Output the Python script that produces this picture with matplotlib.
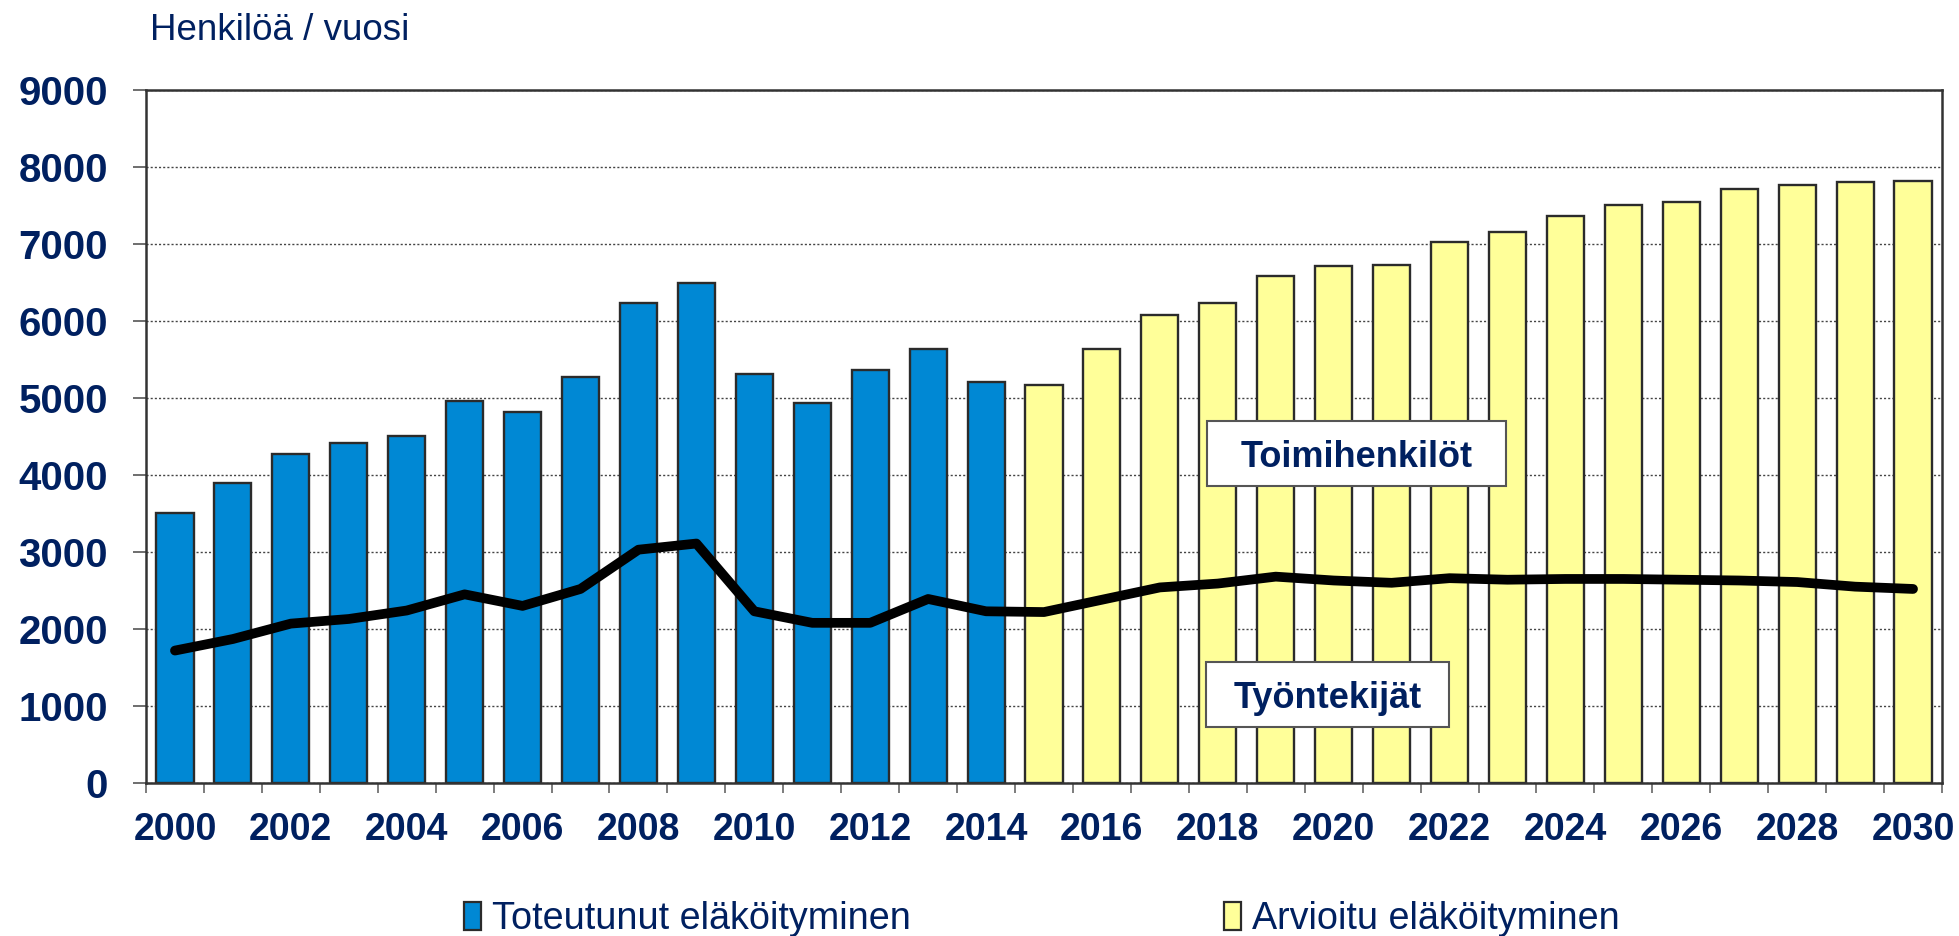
import matplotlib
matplotlib.use("Agg")
import matplotlib.pyplot as plt
from matplotlib.patches import Rectangle, Patch
import numpy as np

plt.rcParams['font.family'] = ['Liberation Sans', 'DejaVu Sans']

years = list(range(2000, 2031))
actual_years = list(range(2000, 2015))
actual_total = [3510, 3900, 4270, 4420, 4510, 4960, 4820, 5270, 6240, 6500,
                5310, 4940, 5360, 5630, 5210]
forecast_years = list(range(2015, 2031))
forecast_total = [5165, 5630, 6080, 6230, 6590, 6710, 6730, 7020, 7160, 7360,
                  7510, 7550, 7720, 7760, 7800, 7820]
workers = [1720, 1870, 2070, 2130, 2240, 2450, 2300, 2520, 3030, 3110,
           2230, 2080, 2080, 2390, 2230, 2220, 2380, 2540, 2590, 2680,
           2630, 2600, 2660, 2640, 2650, 2650, 2640, 2630, 2610, 2550, 2520]
yticks = [0, 1000, 2000, 3000, 4000, 5000, 6000, 7000, 8000, 9000]
xtick_years = list(range(2000, 2031, 2))

navy = '#002060'
blue = '#0088D4'
yellow = '#FFFF99'
edge = '#2b2b2b'

W, H = 1959, 936
fig = plt.figure(figsize=(W / 100, H / 100), dpi=100)
ax = fig.add_axes([146 / W, 1 - 783 / H, (1942 - 146) / W, (783 - 90) / H])

xa = np.array(actual_years) - 2000
xf = np.array(forecast_years) - 2000
xall = np.array(years) - 2000
bw = 0.64
ax.bar(xa, actual_total, width=bw, color=blue, edgecolor=edge, linewidth=1.7, zorder=2)
ax.bar(xf, forecast_total, width=bw, color=yellow, edgecolor=edge, linewidth=1.7, zorder=2)
ax.plot(xall, workers, color='black', linewidth=7, solid_joinstyle='round',
        solid_capstyle='round', zorder=4)

ax.set_xlim(-0.5, 30.5)
ax.set_ylim(0, 9000)
ax.set_yticks(yticks)
ax.set_yticklabels([str(v) for v in yticks])
ax.set_xticks(np.array(xtick_years) - 2000)
ax.set_xticklabels([str(y) for y in xtick_years])
ax.set_xticks(np.arange(-0.5, 31, 1), minor=True)
ax.tick_params(axis='x', which='major', length=0, pad=21)
ax.tick_params(axis='x', which='minor', length=7.5, width=1.2, color='#666666', direction='out')
ax.tick_params(axis='y', which='major', length=9.5, width=1.2, color='#555555', direction='out', pad=18)
for lab in ax.get_xticklabels():
    lab.set_fontsize(27)
    lab.set_fontweight('bold')
    lab.set_color(navy)
for lab in ax.get_yticklabels():
    lab.set_fontsize(29)
    lab.set_fontweight('bold')
    lab.set_color(navy)

ax.yaxis.grid(True, linestyle=(0, (1.5, 1.5)), color='#444444', linewidth=1.0, zorder=0)
ax.set_axisbelow(True)
for s in ax.spines.values():
    s.set_color('#333333')
    s.set_linewidth(1.8)

# label boxes (axes fraction)
boxes = [
    ("Toimihenkilöt", 0.5908, 0.4286, 0.7572 - 0.5908, 0.5224 - 0.4286, 0.456),
    ("Työntekijät", 0.5902, 0.0808, 0.7255 - 0.5902, 0.1746 - 0.0808, 0.1082),
]
for txt, x0, y0, w, h, yb in boxes:
    ax.add_patch(Rectangle((x0, y0), w, h, transform=ax.transAxes, facecolor='white',
                           edgecolor='#555555', linewidth=1.5, zorder=5))
    ax.text(x0 + w / 2, yb, txt, transform=ax.transAxes, ha='center', va='baseline',
            fontsize=26, fontweight='bold', color=navy, zorder=6)

fig.text(150 / W, 1 - 31 / H, "Henkilöä / vuosi", fontsize=26.5, color=navy,
         ha='left', va='center')

handles = [Patch(facecolor=blue, edgecolor=edge, linewidth=1.6),
           Patch(facecolor=yellow, edgecolor=edge, linewidth=1.6)]
leg = fig.legend(handles, ["Toteutunut eläköityminen", "Arvioitu eläköityminen"],
                 loc='center', bbox_to_anchor=(1042 / W, 1 - 919 / H), ncol=2,
                 frameon=False, fontsize=27.2, handlelength=0.45, handleheight=0.75,
                 handletextpad=0.28, columnspacing=8.3, borderpad=0, borderaxespad=0)
for t in leg.get_texts():
    t.set_color(navy)

fig.savefig("out.png", dpi=100)
